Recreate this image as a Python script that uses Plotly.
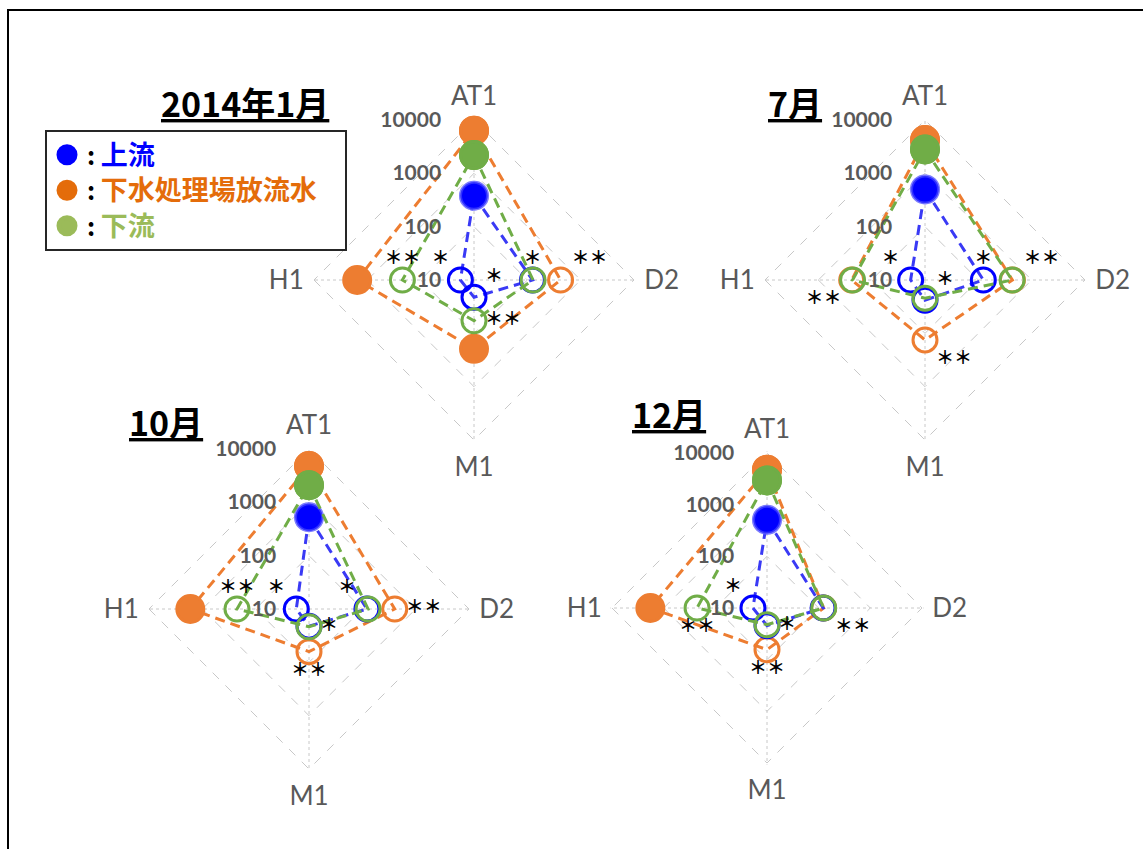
import plotly.graph_objects as go

# ---- data -------------------------------------------------------------
categories = ["AT1", "D2", "M1", "H1"]
panel_titles = ["2014年1月", "7月", "10月", "12月"]
series_names = ["上流", "下水処理場放流水", "下流"]
tick_values = [10, 100, 1000, 10000]
tick_labels = ["10", "100", "1000", "10000"]

# values in category order AT1, D2, M1, H1
upstream_jan = [380, 125, 21, 18]
effluent_jan = [6300, 420, 195, 1550]
downstream_jan = [2200, 128, 58, 220]

upstream_jul = [500, 124, 24, 18.6]
effluent_jul = [4200, 435, 133, 237]
downstream_jul = [2800, 430, 22, 228]

upstream_oct = [525, 122, 21, 17.3]
effluent_oct = [4800, 405, 63, 1680]
downstream_oct = [2100, 128, 21.5, 224]

upstream_dec = [510, 122, 22, 18.7]
effluent_dec = [4750, 125, 64, 1810]
downstream_dec = [2950, 125, 21, 226]

# 1 = filled marker, 0 = open marker
filled_upstream_jan = [1, 0, 0, 0]
filled_effluent_jan = [1, 0, 1, 1]
filled_downstream_jan = [1, 0, 0, 0]
filled_upstream_jul = [1, 0, 0, 0]
filled_effluent_jul = [1, 0, 0, 0]
filled_downstream_jul = [1, 0, 0, 0]
filled_upstream_oct = [1, 0, 0, 0]
filled_effluent_oct = [1, 0, 0, 1]
filled_downstream_oct = [1, 0, 0, 0]
filled_upstream_dec = [1, 0, 0, 0]
filled_effluent_dec = [1, 0, 0, 1]
filled_downstream_dec = [1, 0, 0, 0]

# significance marks
sig_upstream_jan = ["", "*", "*", "*"]
sig_effluent_jan = ["", "**", "", ""]
sig_downstream_jan = ["", "", "**", "**"]
sig_upstream_jul = ["", "*", "*", "*"]
sig_effluent_jul = ["", "**", "**", ""]
sig_downstream_jul = ["", "", "", "**"]
sig_upstream_oct = ["", "*", "*", "*"]
sig_effluent_oct = ["", "**", "**", ""]
sig_downstream_oct = ["", "", "", "**"]
sig_upstream_dec = ["", "", "*", "*"]
sig_effluent_dec = ["", "**", "**", ""]
sig_downstream_dec = ["", "", "", "**"]

# ---- styling ----------------------------------------------------------
W, H = 1143, 849
FONT = "Lato, 'Noto Sans CJK JP', sans-serif"
CJK = "'Noto Sans CJK JP', sans-serif"
GRID = "#C8C8C8"
LABEL = "#595959"

marker_colors = {"up": "#0000FF", "eff": "#ED7D31", "down": "#70AD47"}
line_colors = {"up": "#3A3AF5", "eff": "#ED7D31", "down": "#70AD47"}
legend_colors = {"up": "#0000FF", "eff": "#E46C0A", "down": "#9BBB59"}

# radial range (log10 units); the upper end sits just past 10^4 so the
# outermost grid ring is drawn as a dashed line
R_LO, R_HI = 1.0, 4.03

# panel geometry in pixels: centre x, centre y, radius of the 10^4 ring
panel_geom = [(474, 280, 160), (925, 280, 160), (309, 609, 160), (767, 608, 155)]
title_pos = [(245, 103), (795, 103), (166, 421), (669, 413)]

# label placement for the significance marks (per panel, per series, per category)
sig_pos = [
    {"up": ["top center", "top center", "top right", "top left"],
     "eff": ["top center", "top right", "top center", "top center"],
     "down": ["top center", "top center", "middle right", "top center"]},
    {"up": ["top center", "top center", "top right", "top left"],
     "eff": ["top center", "top right", "bottom right", "top center"],
     "down": ["top center", "top center", "top center", "bottom left"]},
    {"up": ["top center", "top left", "middle right", "top left"],
     "eff": ["top center", "middle right", "bottom center", "top center"],
     "down": ["top center", "top center", "top center", "top center"]},
    {"up": ["top center", "top center", "middle right", "top left"],
     "eff": ["top center", "bottom right", "bottom center", "top center"],
     "down": ["top center", "top center", "top center", "bottom center"]},
]

panels = [
    {"up": (upstream_jan, filled_upstream_jan, sig_upstream_jan),
     "eff": (effluent_jan, filled_effluent_jan, sig_effluent_jan),
     "down": (downstream_jan, filled_downstream_jan, sig_downstream_jan)},
    {"up": (upstream_jul, filled_upstream_jul, sig_upstream_jul),
     "eff": (effluent_jul, filled_effluent_jul, sig_effluent_jul),
     "down": (downstream_jul, filled_downstream_jul, sig_downstream_jul)},
    {"up": (upstream_oct, filled_upstream_oct, sig_upstream_oct),
     "eff": (effluent_oct, filled_effluent_oct, sig_effluent_oct),
     "down": (downstream_oct, filled_downstream_oct, sig_downstream_oct)},
    {"up": (upstream_dec, filled_upstream_dec, sig_upstream_dec),
     "eff": (effluent_dec, filled_effluent_dec, sig_effluent_dec),
     "down": (downstream_dec, filled_downstream_dec, sig_downstream_dec)},
]

fig = go.Figure()

draw_order = ["eff", "up", "down"]
for i, panel in enumerate(panels):
    sub = "polar" if i == 0 else f"polar{i + 1}"
    for key in draw_order:
        vals, filled, _ = panel[key]
        r = vals + vals[:1]
        th = categories + categories[:1]
        fl = filled + filled[:1]
        symbols = ["circle" if f else "circle-open" for f in fl]
        sizes = [27 if f else 24 for f in fl]
        if key == "up":
            edge = ["rgba(90,90,255,0.55)" if f else marker_colors[key] for f in fl]
        else:
            edge = [marker_colors[key]] * len(fl)
        fig.add_trace(go.Scatterpolar(
            r=r, theta=th, subplot=sub, mode="lines+markers",
            line=dict(color=line_colors[key], width=3, dash="10px,6px"),
            marker=dict(color=marker_colors[key], symbol=symbols, size=sizes,
                        opacity=1, line=dict(color=edge, width=3)),
            showlegend=False, hoverinfo="skip",
        ))
    # significance marks anchored on the data points
    for key in draw_order:
        vals, _, sig = panel[key]
        txt = [s.replace("*", "＊") for s in sig]
        fig.add_trace(go.Scatterpolar(
            r=vals, theta=categories, subplot=sub, mode="markers+text",
            text=txt, textposition=sig_pos[i][key],
            textfont=dict(family=CJK, size=18, color="black", weight="bold"),
            marker=dict(size=16, opacity=0),
            showlegend=False, hoverinfo="skip",
        ))

# legend entries
for key, name in zip(["up", "eff", "down"], series_names):
    fig.add_trace(go.Scatterpolar(
        r=[None], theta=[None], subplot="polar", mode="markers",
        marker=dict(color=legend_colors[key], size=16,
                    line=dict(color=legend_colors[key], width=5)),
        name=(f"<b>:</b> <b><span style='color:{legend_colors[key]};font-size:27px'>"
              f"{name}</span></b>&nbsp;&nbsp;&nbsp;&nbsp;"),
        showlegend=True,
    ))

# radial labels padded with figure spaces so they line up on the right
padded_labels = ["\u2007" * (5 - len(t)) + t for t in tick_labels]


def polar_layout(cx, cy, ring):
    rad = ring * (R_HI - R_LO) / (4 - R_LO)
    return dict(
        domain=dict(x=[(cx - rad) / W, (cx + rad) / W],
                    y=[1 - (cy + rad) / H, 1 - (cy - rad) / H]),
        gridshape="linear",
        bgcolor="white",
        radialaxis=dict(
            type="log", range=[R_LO, R_HI], tickvals=tick_values, ticktext=padded_labels,
            angle=90, tickangle=90, side="counterclockwise",
            showline=False, gridcolor=GRID, griddash="dash", gridwidth=1,
            ticks="outside", ticklen=25, tickcolor="rgba(0,0,0,0)",
            tickfont=dict(family=FONT, size=21, color=LABEL, weight="bold"),
        ),
        angularaxis=dict(
            type="category", categoryarray=categories,
            direction="clockwise", rotation=90,
            gridcolor=GRID, griddash="dot", gridwidth=1,
            showline=False,
            ticks="outside", ticklen=3, tickcolor="rgba(0,0,0,0)",
            tickfont=dict(family=FONT, size=26, color=LABEL),
        ),
    )


layout = dict(
    width=W, height=H,
    margin=dict(l=0, r=0, t=0, b=0),
    paper_bgcolor="white",
    font=dict(family=FONT),
    legend=dict(
        x=45 / W, y=1 - 130 / H, xanchor="left", yanchor="top",
        bgcolor="white", bordercolor="#262626", borderwidth=2,
        font=dict(family=CJK, size=25, color="black"),
    ),
    shapes=[dict(type="rect", xref="paper", yref="paper",
                 x0=8 / W, x1=1.05, y0=-0.05, y1=1 - 10 / H,
                 line=dict(color="black", width=2))],
    annotations=[
        dict(text=f"<b><u>{t}</u></b>", xref="paper", yref="paper",
             x=px / W, y=1 - py / H, xanchor="center", yanchor="middle",
             showarrow=False, font=dict(family=CJK, size=34, color="black"))
        for t, (px, py) in zip(panel_titles, title_pos)
    ],
)
for i, (cx, cy, ring) in enumerate(panel_geom):
    layout["polar" if i == 0 else f"polar{i + 1}"] = polar_layout(cx, cy, ring)

fig.update_layout(**layout)
fig.write_html("out.html")
